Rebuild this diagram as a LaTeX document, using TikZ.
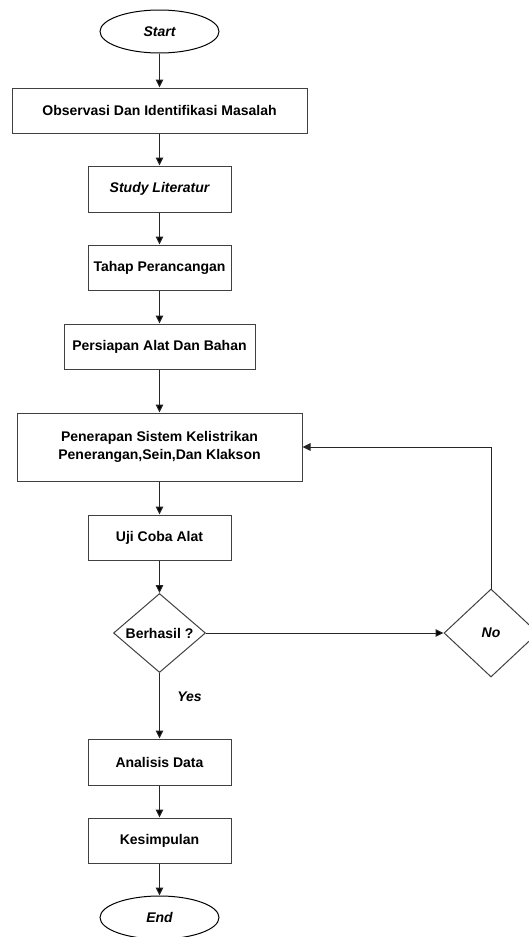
\documentclass[tikz,border=0pt]{standalone}
\usepackage{fontspec}
\setmainfont{Liberation Sans}
\usetikzlibrary{arrows.meta,shapes.geometric,positioning}

\tikzset{
	proses/.style={draw=black!75, line width=1pt, rectangle, inner sep=0pt, align=center, font=\fontsize{14}{17.5}\selectfont\bfseries},
	terminal/.style={draw=black, line width=1pt, ellipse, inner sep=0pt, minimum width=119pt, minimum height=43pt, font=\fontsize{14}{17.5}\selectfont\bfseries\itshape},
	keputusan/.style={draw=black!75, line width=1pt, diamond, inner sep=0pt, font=\fontsize{14}{17.5}\selectfont\bfseries}
}

\begin{document}
\begin{tikzpicture}[x=1pt, y=-1pt, >={Triangle[length=8pt,width=7.5pt]}]
		\useasboundingbox (0,0) rectangle (528,937);
		\draw (159.5,31.5) node [terminal] (start) {Start};
		\draw (159.5,110.5) node [proses, minimum width=295pt, minimum height=45pt] (obs) {Observasi Dan Identifikasi Masalah};
		\draw (159.5,189) node [proses, minimum width=143pt, minimum height=46pt] (lit) {\itshape Study Literatur};
		\draw (159.5,267.5) node [proses, minimum width=143pt, minimum height=45pt] (tahap) {Tahap Perancangan};
		\draw (159.5,346.5) node [proses, minimum width=191pt, minimum height=45pt] (siap) {Persiapan Alat Dan Bahan};
		\draw (159.5,447) node [proses, minimum width=285pt, minimum height=68pt] (terap) {Penerapan Sistem Kelistrikan\\Penerangan,Sein,Dan Klakson};
		\draw (159.5,537.5) node [proses, minimum width=143pt, minimum height=45pt] (uji) {Uji Coba Alat};
		\draw (159.5,633) node [keputusan, minimum width=92pt, minimum height=79pt] (hasil) {Berhasil ?};
		\draw (491,633) node [keputusan, minimum width=94pt, minimum height=88pt, font=\fontsize{14}{17.5}\selectfont\bfseries\itshape] (no) {No};
		\draw (159.5,762) node [proses, minimum width=143pt, minimum height=46pt] (analisis) {Analisis Data};
		\draw (159.5,840.5) node [proses, minimum width=143pt, minimum height=45pt] (simpul) {Kesimpulan};
		\draw (159.5,917.5) node [terminal] (end) {End};
		\path[->, draw=black!85, line width=1pt]
			(start) edge (obs)
			(obs) edge (lit)
			(lit) edge (tahap)
			(tahap) edge (siap)
			(siap) edge (terap)
			(terap) edge (uji)
			(uji) edge (hasil)
			(hasil) edge node [pos=0.37, right=14pt, font=\fontsize{14}{17.5}\selectfont\bfseries\itshape] (yes) {Yes} (analisis)
				edge (no)
			(analisis) edge (simpul)
			(simpul) edge (end);
		\draw[->, draw=black!85, line width=1pt] (no) |- (terap);
	\end{tikzpicture}
\end{document}
